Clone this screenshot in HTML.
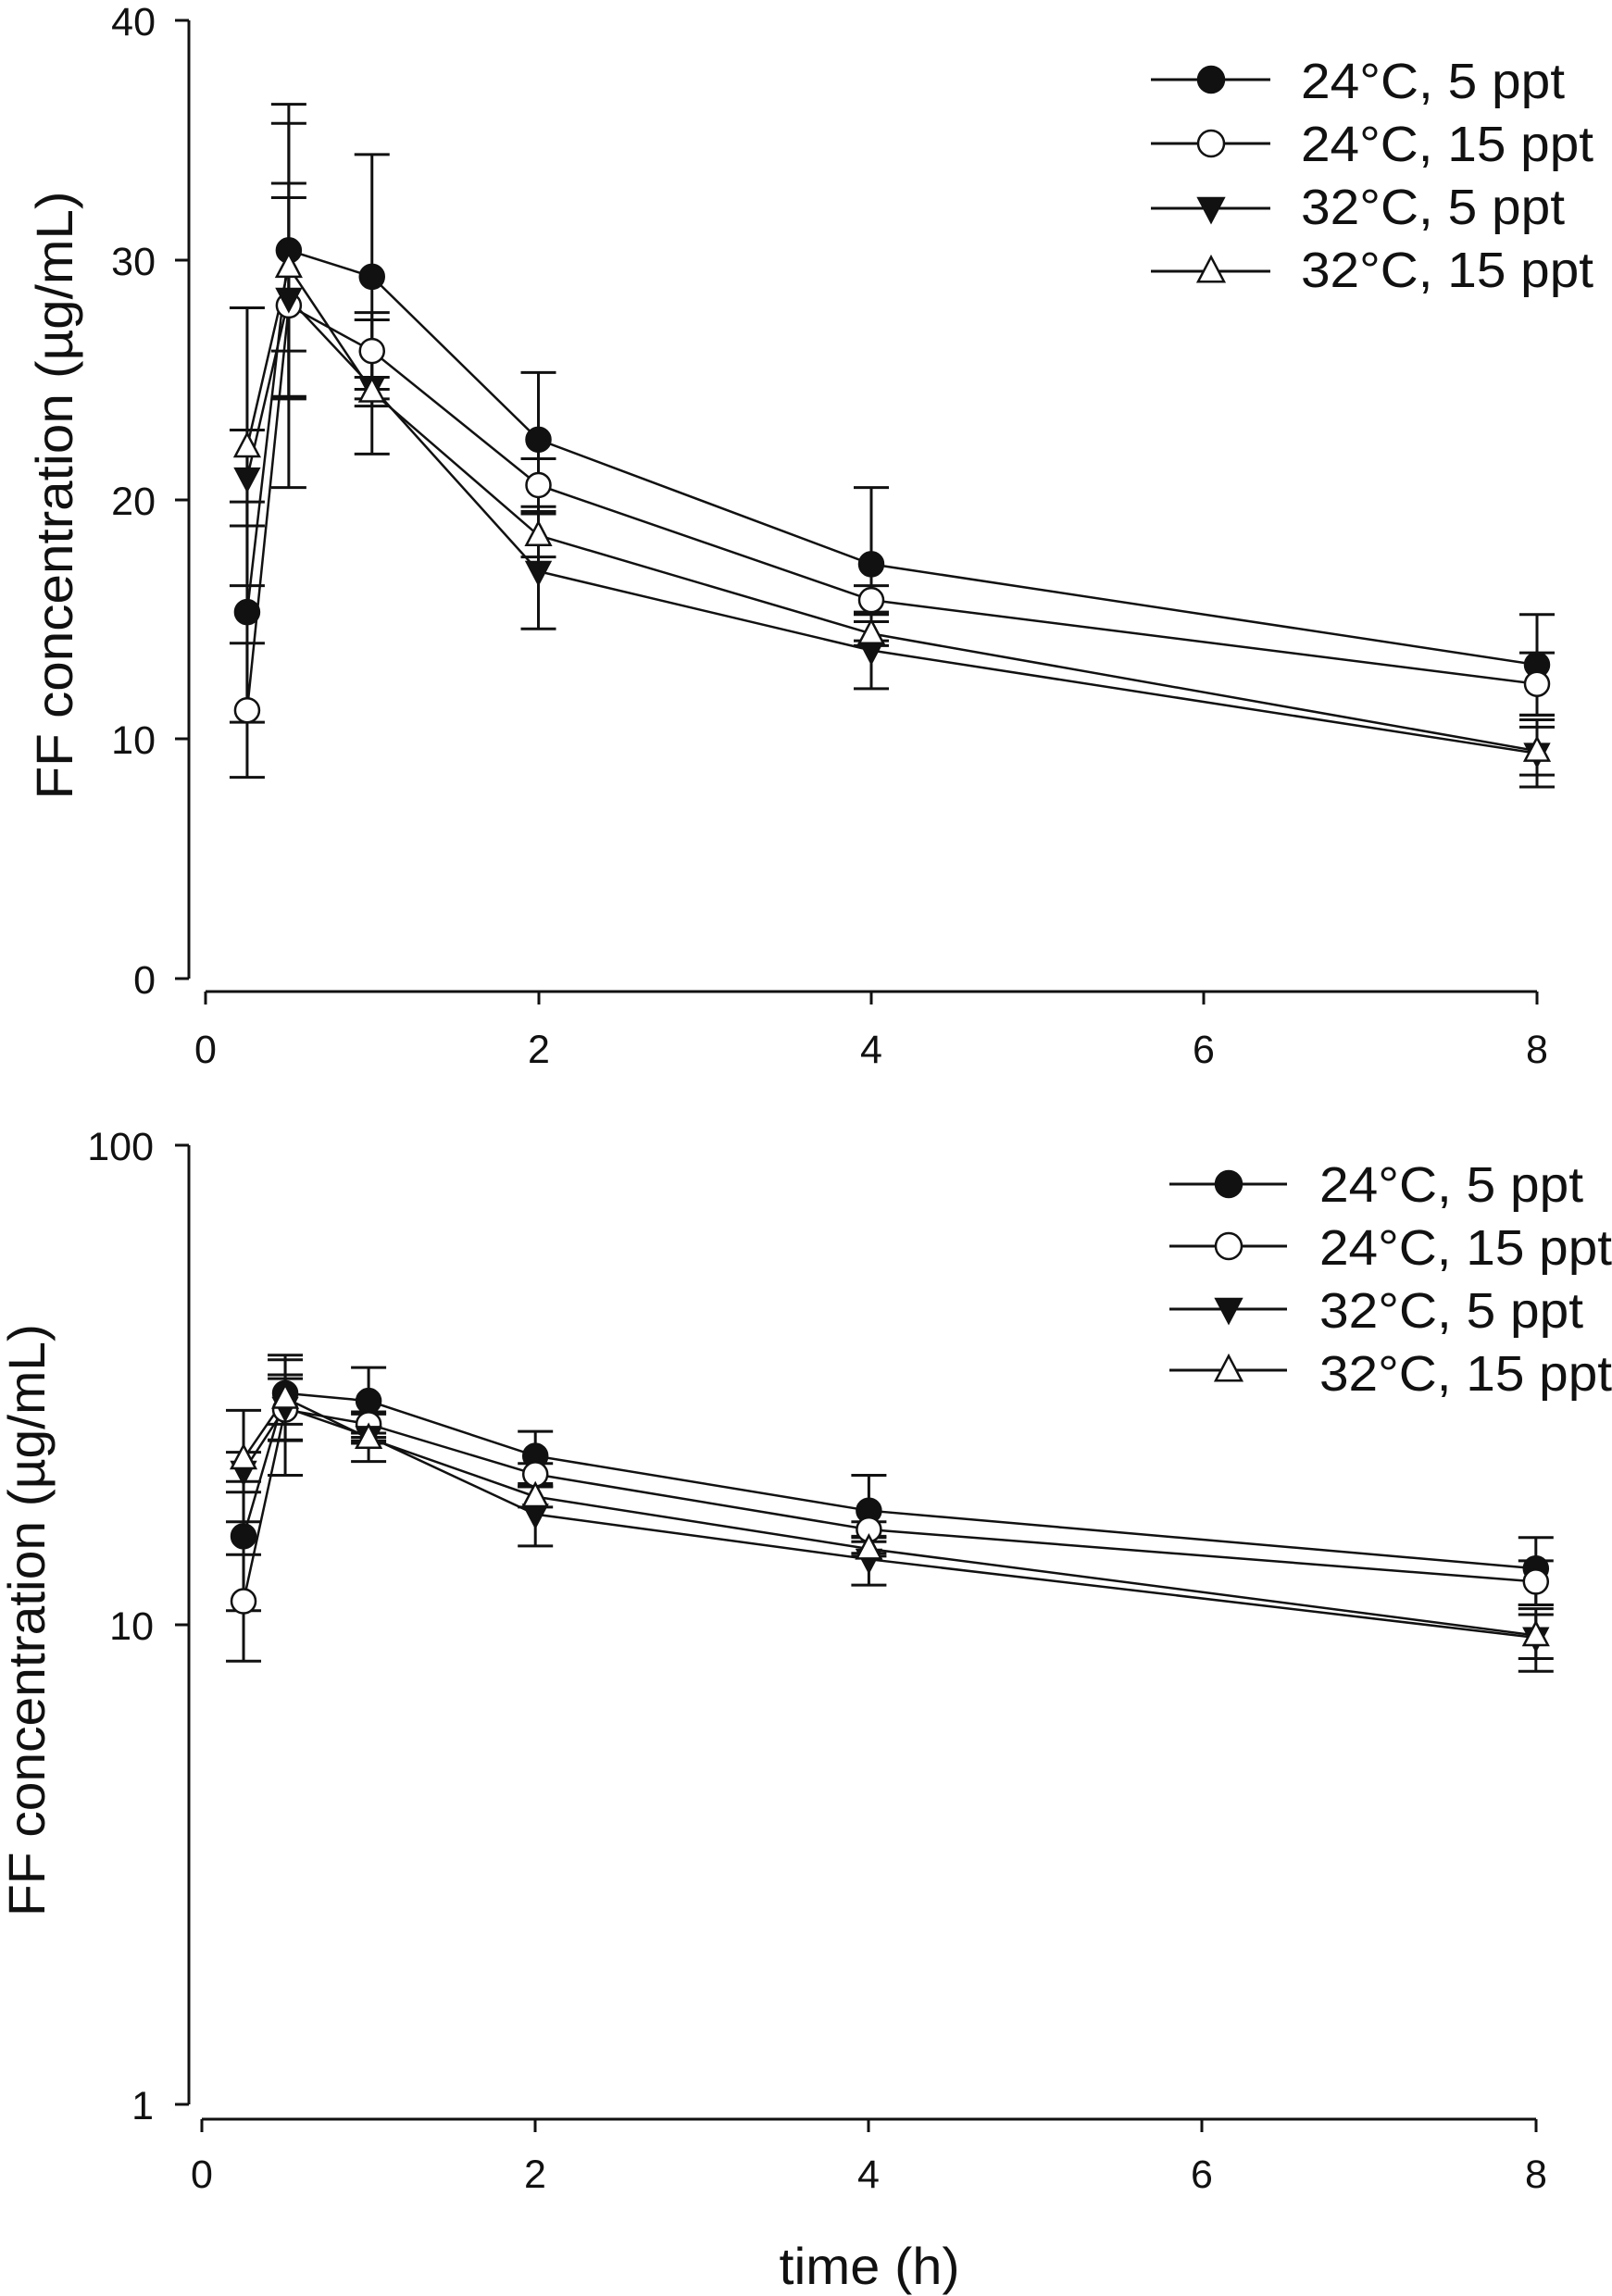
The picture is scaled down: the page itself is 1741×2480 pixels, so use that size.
<!DOCTYPE html>
<html><head><meta charset="utf-8"><style>
html,body{margin:0;padding:0;background:#fff}
svg{display:block}
text{font-family:"Liberation Sans",sans-serif;fill:#111}
</style></head><body>
<svg id="s" width="1741" height="2480" viewBox="0 0 1741 2480" xmlns="http://www.w3.org/2000/svg">
<g stroke="#111" stroke-width="3" fill="none">
<line x1="204" y1="22" x2="204" y2="1057"/>
<line x1="189" y1="22" x2="204" y2="22"/><line x1="189" y1="281" x2="204" y2="281"/><line x1="189" y1="540" x2="204" y2="540"/><line x1="189" y1="798" x2="204" y2="798"/><line x1="189" y1="1057" x2="204" y2="1057"/>
<line x1="222" y1="1071" x2="1660" y2="1071"/>
<line x1="222" y1="1071" x2="222" y2="1085"/><line x1="582" y1="1071" x2="582" y2="1085"/><line x1="941" y1="1071" x2="941" y2="1085"/><line x1="1300" y1="1071" x2="1300" y2="1085"/><line x1="1660" y1="1071" x2="1660" y2="1085"/>
<line x1="204" y1="1237" x2="204" y2="2273"/>
<line x1="189" y1="1237" x2="204" y2="1237"/><line x1="189" y1="1755" x2="204" y2="1755"/><line x1="189" y1="2273" x2="204" y2="2273"/>
<line x1="218" y1="2289" x2="1659" y2="2289"/>
<line x1="218" y1="2289" x2="218" y2="2303"/><line x1="578" y1="2289" x2="578" y2="2303"/><line x1="938" y1="2289" x2="938" y2="2303"/><line x1="1298" y1="2289" x2="1298" y2="2303"/><line x1="1659" y1="2289" x2="1659" y2="2303"/>
</g>
<g font-size="43" text-anchor="end">
<text x="168" y="38">40</text><text x="168" y="297">30</text><text x="168" y="556">20</text><text x="168" y="814">10</text><text x="168" y="1073">0</text>
<text x="166" y="1253">100</text><text x="166" y="1771">10</text><text x="166" y="2289">1</text>
</g>
<g font-size="43" text-anchor="middle">
<text x="222" y="1148">0</text><text x="582" y="1148">2</text><text x="941" y="1148">4</text><text x="1300" y="1148">6</text><text x="1660" y="1148">8</text>
<text x="218" y="2363">0</text><text x="578" y="2363">2</text><text x="938" y="2363">4</text><text x="1298" y="2363">6</text><text x="1659" y="2363">8</text>
</g>
<text x="939" y="2467" font-size="56" text-anchor="middle" textLength="195" lengthAdjust="spacingAndGlyphs">time (h)</text>
<text transform="translate(78,535) rotate(-90)" font-size="56" text-anchor="middle" textLength="657" lengthAdjust="spacingAndGlyphs">FF concentration (µg/mL)</text>
<text transform="translate(48,1750) rotate(-90)" font-size="56" text-anchor="middle" textLength="640" lengthAdjust="spacingAndGlyphs">FF concentration (µg/mL)</text>
<g font-size="54">
<text x="1405" y="106" textLength="285" lengthAdjust="spacingAndGlyphs">24°C, 5 ppt</text><text x="1405" y="174" textLength="316" lengthAdjust="spacingAndGlyphs">24°C, 15 ppt</text><text x="1405" y="242" textLength="285" lengthAdjust="spacingAndGlyphs">32°C, 5 ppt</text><text x="1405" y="310" textLength="316" lengthAdjust="spacingAndGlyphs">32°C, 15 ppt</text>
<text x="1425" y="1298" textLength="285" lengthAdjust="spacingAndGlyphs">24°C, 5 ppt</text><text x="1425" y="1366" textLength="316" lengthAdjust="spacingAndGlyphs">24°C, 15 ppt</text><text x="1425" y="1434" textLength="285" lengthAdjust="spacingAndGlyphs">32°C, 5 ppt</text><text x="1425" y="1502" textLength="316" lengthAdjust="spacingAndGlyphs">32°C, 15 ppt</text>
</g>
<g id="g"></g>
</svg>
<script>
var NS="http://www.w3.org/2000/svg",G=document.getElementById("g");
function el(t,a){var e=document.createElementNS(NS,t);for(var k in a)e.setAttribute(k,a[k]);G.appendChild(e);return e;}
var T=[0.25,0.5,1,2,4,8];
var S=[
 {m:"fc",v:[15.3,30.4,29.3,22.5,17.3,13.1],e:[4.6,6.1,5.1,2.8,3.2,2.1]},
 {m:"oc",v:[11.2,28.1,26.2,20.6,15.8,12.3],e:[2.8,7.6,1.6,1.1,0.6,1.3]},
 {m:"ft",v:[20.9,28.4,24.7,17.0,13.7,9.4],e:[2.0,4.2,2.8,2.4,1.6,1.4]},
 {m:"ot",v:[22.2,29.7,24.5,18.5,14.4,9.5],e:[5.8,3.5,0.6,0.9,0.5,1.0]}];
function marker(m,x,y,r){
 if(m[1]=="c") el("circle",{cx:x,cy:y,r:r,fill:m[0]=="f"?"#111":"#fff",stroke:"#111","stroke-width":2.5});
 else if(m[0]=="f") el("polygon",{points:(x-r)+","+(y-r*0.8)+" "+(x+r)+","+(y-r*0.8)+" "+x+","+(y+r*1.1),fill:"#111",stroke:"#111","stroke-width":2});
 else el("polygon",{points:(x-r)+","+(y+r*0.8)+" "+(x+r)+","+(y+r*0.8)+" "+x+","+(y-r*1.1),fill:"#fff",stroke:"#111","stroke-width":2.5});
}
function plot(X,Y){
 S.forEach(function(s){
  s.v.forEach(function(v,i){var x=X(T[i]),y1=Y(v+s.e[i]),y2=Y(v-s.e[i]);
   el("line",{x1:x,y1:y1,x2:x,y2:y2,stroke:"#111","stroke-width":3});
   el("line",{x1:x-19,y1:y1,x2:x+19,y2:y1,stroke:"#111","stroke-width":3});
   el("line",{x1:x-19,y1:y2,x2:x+19,y2:y2,stroke:"#111","stroke-width":3});});
 });
 S.forEach(function(s){
  el("polyline",{points:s.v.map(function(v,i){return X(T[i])+","+Y(v)}).join(" "),fill:"none",stroke:"#111","stroke-width":2.5});
 });
 S.forEach(function(s){s.v.forEach(function(v,i){marker(s.m,X(T[i]),Y(v),13);});});
}
plot(function(t){return 222+179.75*t},function(v){return 1057-25.875*v});
plot(function(t){return 218+180.1*t},function(v){return 2273-518*Math.log10(v)});
function leg(x1,x2,xm,ys){S.forEach(function(s,i){el("line",{x1:x1,y1:ys[i],x2:x2,y2:ys[i],stroke:"#111","stroke-width":3});marker(s.m,xm,ys[i],14);});}
leg(1243,1372,1308,[86,155,225,293]);
leg(1263,1390,1327,[1279,1346,1414,1480]);
</script>
</body></html>
